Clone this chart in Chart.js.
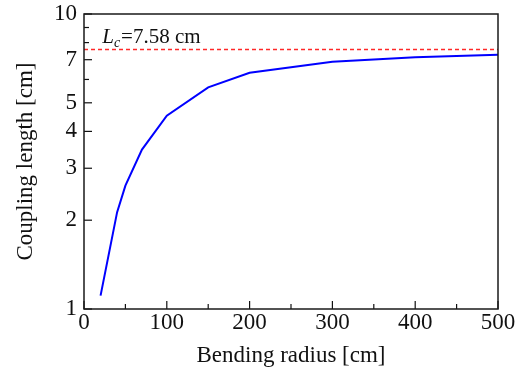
<!DOCTYPE html>
<html>
<head>
<meta charset="utf-8">
<script src="https://cdn.jsdelivr.net/npm/chart.js@4.4.0/dist/chart.umd.min.js"></script>
<style>
  body { margin: 0; background: #fff; }
  canvas { display: block; }
</style>
</head>
<body>
<canvas id="chart" width="515" height="374"></canvas>
<script>
// values
const radius = [20, 40, 50, 70, 100, 150, 200, 300, 400, 500];
const couplingLength = [1.11, 2.13, 2.62, 3.47, 4.52, 5.64, 6.32, 6.89, 7.13, 7.28];
const lcValue = 7.58;
const lcRange = [0, 500];

const xMajorTicks = [0, 100, 200, 300, 400, 500];
const xMinorTicks = [50, 150, 250, 350, 450];
const yTickLabels = [1, 2, 3, 4, 5, 7, 10];
const yMinorTicks = [6, 8, 9];

const serif = '"Liberation Serif", "Times New Roman", serif';

// inward ticks, frame and the L_c label
const framePlugin = {
  id: 'frame',
  afterDatasetsDraw(chart) {
    const { ctx, chartArea: a, scales } = chart;
    const xs = scales.x, ys = scales.y;
    ctx.save();
    ctx.strokeStyle = '#111';
    ctx.lineWidth = 1.2;
    const tick = (x1, y1, x2, y2) => {
      ctx.beginPath(); ctx.moveTo(x1, y1); ctx.lineTo(x2, y2); ctx.stroke();
    };
    xMajorTicks.forEach(v => { const p = xs.getPixelForValue(v); tick(p, a.bottom, p, a.bottom - 8); });
    xMinorTicks.forEach(v => { const p = xs.getPixelForValue(v); tick(p, a.bottom, p, a.bottom - 5); });
    yTickLabels.forEach(v => { const p = ys.getPixelForValue(v); tick(a.left, p, a.left + 8, p); });
    yMinorTicks.forEach(v => { const p = ys.getPixelForValue(v); tick(a.left, p, a.left + 5, p); });

    ctx.lineWidth = 1.5;
    ctx.strokeStyle = '#1a1a1a';
    ctx.strokeRect(a.left, a.top, a.right - a.left, a.bottom - a.top);

    // L_c label
    let x = xs.getPixelForValue(22);
    const y = ys.getPixelForValue(lcValue) - 6;
    ctx.fillStyle = '#111';
    ctx.textBaseline = 'alphabetic';
    ctx.font = 'italic 21px ' + serif;
    ctx.fillText('L', x, y);
    x += ctx.measureText('L').width;
    ctx.font = 'italic 14px ' + serif;
    ctx.fillText('c', x, y + 4);
    x += ctx.measureText('c').width + 1;
    ctx.font = '21px ' + serif;
    ctx.fillText('=7.58 cm', x, y);
    ctx.restore();
  }
};

new Chart(document.getElementById('chart'), {
  type: 'line',
  data: {
    datasets: [{
      label: 'Coupling length',
      data: radius.map((r, i) => ({ x: r, y: couplingLength[i] })),
      borderColor: '#0000ff',
      borderWidth: 2,
      pointRadius: 0,
      tension: 0,
      fill: false
    }, {
      label: 'Lc',
      data: lcRange.map(r => ({ x: r, y: lcValue })),
      borderColor: 'rgb(255, 40, 40)',
      borderWidth: 1.4,
      borderDash: [4, 3],
      pointRadius: 0,
      fill: false
    }]
  },
  options: {
    responsive: false,
    devicePixelRatio: 1,
    animation: false,
    layout: { padding: { top: 14, right: 17, left: 0, bottom: 0 } },
    plugins: { legend: { display: false }, tooltip: { enabled: false } },
    scales: {
      x: {
        type: 'linear',
        min: 0,
        max: 500,
        grid: { display: false, drawTicks: false },
        border: { display: false },
        afterBuildTicks: s => { s.ticks = xMajorTicks.map(v => ({ value: v })); },
        ticks: { color: '#111', padding: 0, font: { family: serif, size: 23 } },
        title: { display: true, text: 'Bending radius [cm]', color: '#111', padding: { top: 4 }, font: { family: serif, size: 23 } },
        afterFit: s => { s.height = 65; s.paddingLeft = 0; s.paddingRight = 0; }
      },
      y: {
        type: 'logarithmic',
        min: 1,
        max: 10,
        grid: { display: false, drawTicks: false },
        border: { display: false },
        afterBuildTicks: s => { s.ticks = yTickLabels.map(v => ({ value: v })); },
        ticks: {
          color: '#111', padding: 7, autoSkip: false,
          font: { family: serif, size: 23 },
          callback: v => String(v)
        },
        title: { display: true, text: 'Coupling length [cm]', color: '#111', padding: { bottom: 2, top: 12 }, font: { family: serif, size: 23 } },
        afterFit: s => { s.width = 84; s.paddingTop = 0; s.paddingBottom = 0; }
      }
    }
  },
  plugins: [framePlugin]
});
</script>
</body>
</html>
